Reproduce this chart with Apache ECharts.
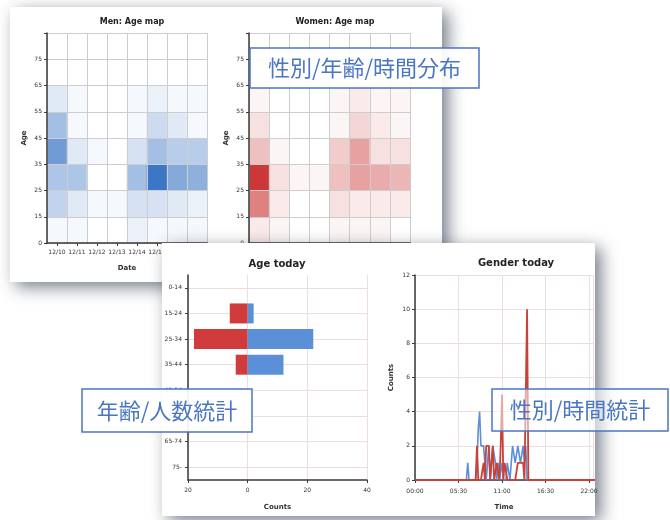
<!DOCTYPE html>
<html><head><meta charset="utf-8">
<script src="https://cdn.jsdelivr.net/npm/echarts/dist/echarts.min.js"></script>
<style>html,body{margin:0;padding:0;background:#fff}#c{width:670px;height:520px}</style>
</head><body><div id="c"></div>
<script>
// ---- data ----
const heatDates = ['12/10','12/11','12/12','12/13','12/14','12/15','12/16','12/17'];
const heatAgeBands = ['0-14','15-24','25-34','35-44','45-54','55-64','65-74','75+'];
const heatAgeTicks = ['0','15','25','35','45','55','65','75',''];
// rows: age bands (0-14 first), columns: dates
const menAgeMap = [
  [1, 1, 0, 0, 2, 1, 1, 1],
  [6, 3, 1, 1, 4, 4, 3, 2],
  [8, 8, 0, 0, 9, 19, 12, 11],
  [14, 3, 1, 0, 4, 9, 7, 7],
  [9, 1, 0, 0, 1, 5, 3, 1],
  [3, 1, 0, 0, 1, 2, 1, 1],
  [0, 0, 0, 0, 0, 0, 0, 0],
  [0, 0, 0, 0, 0, 0, 0, 0]
];
const womenAgeMap = [
  [2, 1, 0, 0, 1, 1, 1, 0],
  [12, 2, 0, 0, 3, 2, 2, 2],
  [19, 3, 1, 1, 6, 9, 8, 7],
  [6, 1, 0, 0, 5, 9, 3, 3],
  [3, 0, 0, 0, 1, 4, 2, 1],
  [1, 0, 0, 0, 1, 2, 1, 1],
  [0, 0, 0, 0, 0, 1, 1, 0],
  [0, 0, 0, 0, 0, 0, 0, 0]
];
const ageTodayBands = ['0-14','15-24','25-34','35-44','45-54','55-64','65-74','75-'];
const ageTodayMen = [0, 2, 22, 12, 0, 0, 0, 0];
const ageTodayWomen = [0, -6, -18, -4, 0, 0, 0, 0];
const genderTimes = ['00:00','06:30','06:40','06:50','07:40','07:50','08:00','08:10','08:20','08:30','08:40','08:50',
  '09:00','09:10','09:20','09:30','09:40','09:50','10:00','10:10','10:20','10:30','10:40','10:50','11:00','11:10',
  '11:20','11:30','11:40','11:50','12:00','12:10','12:20','12:30','12:40','12:50','13:00','13:10','13:20','13:30',
  '13:40','13:50','14:00','14:10','14:20','14:30','24:00'];
const genderMen =   [0,0,1,0,0,1,3,4,2,2,2,1, 0,1,2,0,1,2,2,1,0,1,0,0,1,0, 0,0,1,1,0,1,2,2,1,1,2,2,1,1, 2,1,2,0,0,0,0];
const genderWomen = [0,0,0,0,0,2,0,0,0,0,1,0, 2,2,2,0,1,2,0,0,1,1,0,2,5,0, 1,1,0,0,0,0,0,0,0,0,1,1,1,1, 1,0,0,10,0,0,0];
const calloutTexts = ['性別/年齢/時間分布', '年齢/人数統計', '性別/時間統計'];

// ---- helpers ----
const toHours = t => { const p = t.split(':').map(Number); return p[0] + p[1] / 60; };
const fmtTime = v => { const h = Math.floor(v); const m = Math.round((v - h) * 60); return String(h).padStart(2,'0') + ':' + String(m).padStart(2,'0'); };
const heatData = m => { const out = []; m.forEach((row, y) => row.forEach((v, x) => out.push([x, y, v]))); return out; };

const FONT = 'DejaVu Sans';
const dark = '#3a3a3a';
const lbl = { fontSize: 6, color: '#333', fontFamily: FONT };
const nameStyle = { fontSize: 7, fontWeight: 'bold', color: '#333', fontFamily: FONT };

function heatX(gi, z) {
  return { type: 'category', gridIndex: gi, data: heatDates, z: z,
    axisLine: { show: true, lineStyle: { color: dark, width: 1.5 } },
    axisTick: { show: true, alignWithLabel: true, length: 3, interval: 0, lineStyle: { color: dark } },
    axisLabel: Object.assign({ margin: 6, interval: 0 }, lbl),
    splitLine: { show: true, interval: 0, lineStyle: { color: '#cdcdcd', width: 1 } },
    name: 'Date', nameLocation: 'middle', nameGap: 22, nameTextStyle: nameStyle };
}
function heatYCat(gi, z) {
  return { type: 'category', gridIndex: gi, data: heatAgeBands, z: z,
    axisLine: { show: false }, axisTick: { show: false }, axisLabel: { show: false },
    splitLine: { show: true, interval: 0, lineStyle: { color: '#cdcdcd', width: 1 } } };
}
function heatYVal(gi, z) {
  return { type: 'value', gridIndex: gi, position: 'left', min: 0, max: 8, interval: 1, z: z,
    axisLine: { show: true, lineStyle: { color: dark, width: 1.5 } },
    axisTick: { show: true, length: 3, lineStyle: { color: dark } },
    axisLabel: Object.assign({ margin: 5, formatter: v => heatAgeTicks[v] }, lbl),
    splitLine: { show: false },
    name: 'Age', nameLocation: 'middle', nameGap: 19, nameRotate: 90, nameTextStyle: nameStyle };
}

const panelShadow = { shadowBlur: 16, shadowOffsetX: 6, shadowOffsetY: 5, shadowColor: 'rgba(30,40,60,0.6)' };
const calloutColor = '#4a76c2';
function callout(x, y, w, h, text, fill) {
  return { type: 'group', z: 40, children: [
    { type: 'rect', z: 40, shape: { x: x, y: y, width: w, height: h },
      style: { fill: fill, stroke: calloutColor, lineWidth: 1.5 } },
    { type: 'text', z: 41, style: { x: x + w / 2, y: y + h / 2, text: text, fill: calloutColor,
      font: '22px "Noto Sans CJK JP"', align: 'center', verticalAlign: 'middle' } }
  ]};
}

const option = {
  backgroundColor: '#ffffff',
  animation: false,
  textStyle: { fontFamily: FONT },
  graphic: [
    { type: 'rect', z: 1, shape: { x: 10, y: 7, width: 432, height: 275 }, style: Object.assign({ fill: '#fff' }, panelShadow) },
    { type: 'rect', z: 15, shape: { x: 162, y: 243, width: 433, height: 273 }, style: Object.assign({ fill: '#fff' }, panelShadow) },
    callout(250, 48, 229, 40, calloutTexts[0], 'rgba(255,255,255,0.92)'),
    callout(82, 389, 170, 43, calloutTexts[1], 'rgba(255,255,255,0.92)'),
    callout(492, 389, 176, 42, calloutTexts[2], 'rgba(255,255,255,0.55)')
  ],
  title: [
    { text: 'Men: Age map', left: 127, top: 13, textAlign: 'center', z: 4, textStyle: { fontSize: 8, fontWeight: 'bold', color: '#222', fontFamily: FONT } },
    { text: 'Women: Age map', left: 330, top: 13, textAlign: 'center', z: 4, textStyle: { fontSize: 8, fontWeight: 'bold', color: '#222', fontFamily: FONT } },
    { text: 'Age today', left: 272, top: 254, textAlign: 'center', z: 22, textStyle: { fontSize: 10, fontWeight: 'bold', color: '#222', fontFamily: FONT } },
    { text: 'Gender today', left: 511, top: 253, textAlign: 'center', z: 22, textStyle: { fontSize: 10, fontWeight: 'bold', color: '#222', fontFamily: FONT } }
  ],
  grid: [
    { left: 47, top: 33, width: 160, height: 210, outerBoundsMode: 'none' },
    { left: 249, top: 33, width: 161, height: 210, outerBoundsMode: 'none' },
    { left: 188, top: 275, width: 179, height: 205, outerBoundsMode: 'none' },
    { left: 415, top: 275, width: 178, height: 205, outerBoundsMode: 'none' }
  ],
  visualMap: [
    { show: false, seriesIndex: 0, min: 0, max: 20, inRange: { color: ['#ffffff', '#3270c2'] } },
    { show: false, seriesIndex: 1, min: 0, max: 20, inRange: { color: ['#ffffff', '#c92d2d'] } }
  ],
  xAxis: [
    heatX(0, 3),
    heatX(1, 3),
    { type: 'value', gridIndex: 2, min: -20, max: 40, interval: 20, z: 20,
      axisLine: { show: true, onZero: false, lineStyle: { color: dark, width: 1.5 } },
      axisTick: { show: true, length: 3, lineStyle: { color: dark } },
      axisLabel: Object.assign({ margin: 7, formatter: v => Math.abs(v) }, lbl),
      splitLine: { show: true, lineStyle: { color: '#eddede', width: 1 } },
      name: 'Counts', nameLocation: 'middle', nameGap: 24, nameTextStyle: nameStyle },
    { type: 'value', gridIndex: 3, min: 0, max: 22.5, interval: 5.5, z: 20,
      axisLine: { show: true, onZero: false, lineStyle: { color: dark, width: 1.5 } },
      axisTick: { show: true, length: 3, lineStyle: { color: dark } },
      axisLabel: Object.assign({ margin: 8, formatter: fmtTime, showMaxLabel: false }, lbl),
      splitLine: { show: true, lineStyle: { color: '#eddede', width: 1 } },
      name: 'Time', nameLocation: 'middle', nameGap: 24, nameTextStyle: nameStyle }
  ],
  yAxis: [
    heatYCat(0, 3), heatYVal(0, 3),
    heatYCat(1, 3), heatYVal(1, 3),
    { type: 'category', gridIndex: 2, data: ageTodayBands, inverse: true, z: 20,
      axisLine: { show: true, onZero: false, lineStyle: { color: dark, width: 1.5 } },
      axisTick: { show: true, alignWithLabel: true, interval: 0, length: 3, lineStyle: { color: dark } },
      axisLabel: Object.assign({ margin: 6, interval: 0 }, lbl),
      splitLine: { show: true, alignWithLabel: true, interval: 0, lineStyle: { color: '#eddede', width: 1 } } },
    { type: 'value', gridIndex: 3, min: 0, max: 12, interval: 2, z: 20,
      axisLine: { show: true, lineStyle: { color: dark, width: 1.5 } },
      axisTick: { show: true, length: 3, lineStyle: { color: dark } },
      axisLabel: Object.assign({ margin: 5 }, lbl),
      splitLine: { show: true, lineStyle: { color: '#eddede', width: 1 } },
      name: 'Counts', nameLocation: 'middle', nameGap: 20, nameRotate: 90, nameTextStyle: nameStyle }
  ],
  series: [
    { type: 'heatmap', xAxisIndex: 0, yAxisIndex: 0, z: 2, data: heatData(menAgeMap), emphasis: { disabled: true } },
    { type: 'heatmap', xAxisIndex: 1, yAxisIndex: 2, z: 2, data: heatData(womenAgeMap), emphasis: { disabled: true } },
    { type: 'bar', name: 'Women', xAxisIndex: 2, yAxisIndex: 4, z: 21, data: ageTodayWomen, barWidth: 20, barGap: '-100%',
      itemStyle: { color: '#d03c3c' } },
    { type: 'bar', name: 'Men', xAxisIndex: 2, yAxisIndex: 4, z: 21, data: ageTodayMen, barWidth: 20, barGap: '-100%',
      itemStyle: { color: '#5b8fd7' },
      markLine: { silent: true, symbol: 'none', label: { show: false }, lineStyle: { color: '#6a6a6a', width: 1, type: 'solid' },
        data: [{ xAxis: 0 }] } },
    { type: 'line', name: 'Men', xAxisIndex: 3, yAxisIndex: 5, z: 21, showSymbol: false,
      data: genderTimes.map((t, i) => [toHours(t), genderMen[i]]),
      lineStyle: { color: '#5b8fd7', width: 1.6 }, itemStyle: { color: '#5b8fd7' } },
    { type: 'line', name: 'Women', xAxisIndex: 3, yAxisIndex: 5, z: 22, showSymbol: false,
      data: genderTimes.map((t, i) => [toHours(t), genderWomen[i]]),
      lineStyle: { color: '#c8423a', width: 1.8 }, itemStyle: { color: '#c8423a' } }
  ]
};
const chart = echarts.init(document.getElementById('c'), null, { renderer: 'canvas' });
chart.setOption(option);
</script></body></html>
